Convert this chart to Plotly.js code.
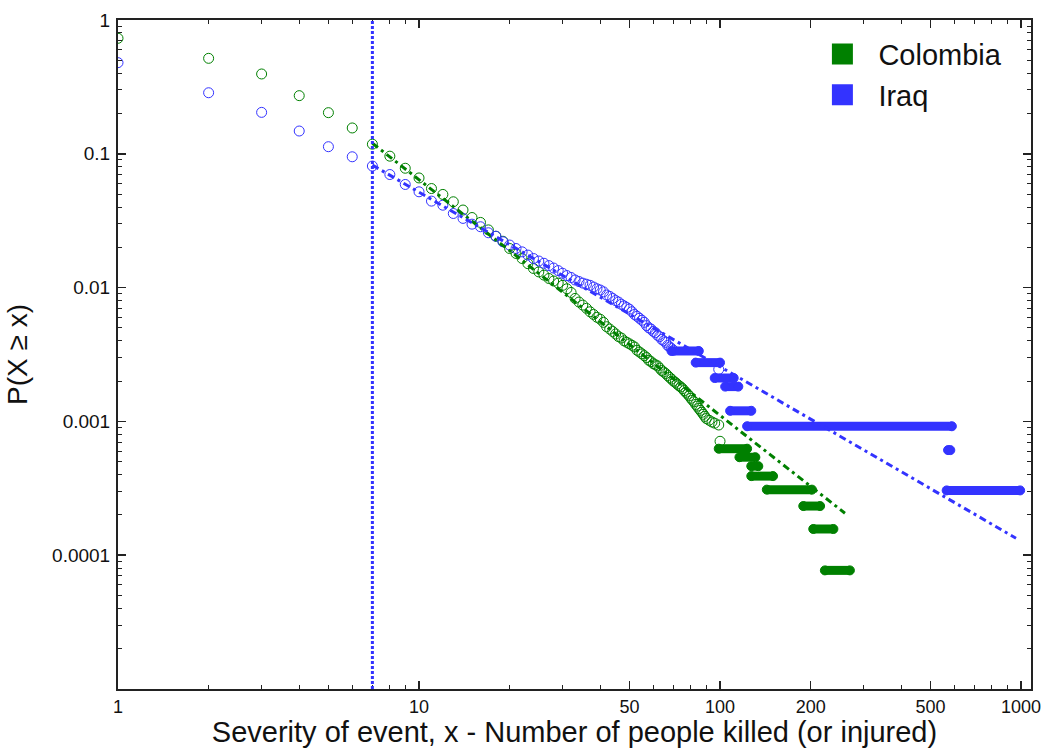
<!DOCTYPE html>
<html><head><meta charset="utf-8">
<script src="https://cdn.plot.ly/plotly-3.0.1.min.js"></script>
<style>html,body{margin:0;padding:0;background:#fff}#chart{width:1044px;height:748px}</style>
</head><body><div id="chart"></div>
<script>
// ---- Colombia: empirical CCDF points (x = severity, y = P(X >= x)) ----
const colombiaX = [1,2,3,4,5,6,7,8,9,10,11,12,13,14,15,16,17,18,19,20,
  21,22,23,24,25,26,27,28,29,30,31,32,33,34,35,36,37,38,39,40,
  41,42,43,44,45,46,47,48,49,50,51,52,53,54,55,56,57,58,59,60,
  61,62,63,64,65,66,67,68,69,70,71,72,73,74,75,76,77,78,79,80,
  81,82,83,84,85,86,87,88,89,90,92,94,96,99,100];
const colombiaY = [0.73,0.517,0.395,0.272,0.203,0.156,0.118,0.096,0.078,0.066,0.055,0.0497,0.0438,0.038,0.0334,0.0307,0.027,0.0242,0.0222,0.0196,
  0.018,0.0165,0.0151,0.0139,0.0131,0.0124,0.0117,0.0112,0.0108,0.0104,0.0098,0.0092,0.0083,0.0078,0.0074,0.0070,0.0066,0.0063,0.0060,0.0058,
  0.0055,0.0051,0.0049,0.0047,0.0045,0.0043,0.0042,0.0040,0.0039,0.0038,0.0037,0.0036,0.0034,0.0033,0.0032,0.0031,0.0030,0.00286,0.0028,0.0027,
  0.00265,0.0026,0.0025,0.0024,0.00234,0.00228,0.0022,0.00213,0.00207,0.0020,0.00196,0.0019,0.00185,0.00181,0.00176,0.0017,0.00165,0.0016,0.00155,0.00149,
  0.00144,0.0014,0.00134,0.0013,0.00125,0.00121,0.00117,0.00113,0.00109,0.00105,0.00102,0.00099,0.00097,0.00094,0.00071];
// Colombia tail plateaus (runs of equal P over a range of x)
const colombiaPlatY  = [0.000625,0.00054,0.000463,0.00039,0.000309,0.000233,0.000157,0.000077];
const colombiaPlatX0 = [99,116,127,127,143,189,204,223];
const colombiaPlatX1 = [123,131,134,150,202,215,238,270];

// ---- Iraq ----
const iraqX = [1,2,3,4,5,6,7,8,9,10,11,12,13,14,15,16,17,18,19,20,
  21,22,23,24,25,26,27,28,29,30,31,32,33,34,35,36,37,38,39,40,
  41,42,43,44,45,46,47,48,49,50,51,52,53,54,55,56,57,58,59,60,
  61,62,63,64,65,66,67,68,69,70,99];
const iraqY = [0.48,0.286,0.204,0.148,0.113,0.095,0.081,0.070,0.059,0.052,0.0443,0.0413,0.0358,0.0329,0.0298,0.0285,0.0257,0.0242,0.022,0.0208,
  0.0196,0.0185,0.0175,0.0165,0.0158,0.0152,0.0146,0.0140,0.0134,0.0128,0.0123,0.0119,0.0114,0.0111,0.0108,0.0106,0.0104,0.0101,0.0098,0.0096,
  0.0093,0.0088,0.0086,0.0083,0.0080,0.0078,0.0075,0.0073,0.0071,0.0069,0.0066,0.0063,0.0061,0.0059,0.0057,0.0055,0.0052,0.0050,0.0049,0.0047,
  0.0046,0.0044,0.0043,0.0041,0.0040,0.0039,0.0037,0.0036,0.0035,0.0034,0.00245];
const iraqPlatY  = [0.00336,0.00275,0.00211,0.00182,0.0012,0.00092,0.00061,0.000305];
const iraqPlatX0 = [69,83,96,104,108,123,572,566];
const iraqPlatX1 = [85,100,111,115,127,589,582,993];

// ---- Power-law fits (end points) and x_min ----
const colombiaFitX = [7,260];
const colombiaFitY = [0.12,0.000206];
const iraqFitX = [7,962];
const iraqFitY = [0.0823,0.000134];
const xMin = 7;

// ---- Axis ticks ----
const xTickVals = [1,10,50,100,200,500,1000];
const xTickText = ['1','10','50','100','200','500','1000'];
const xMinorVals = [2,3,4,5,6,7,8,9,20,30,40,60,70,80,90,300,400,600,700,800,900];
const yTickVals = [1,0.1,0.01,0.001,0.0001];
const yTickText = ['1','0.1','0.01','0.001','0.0001'];
const yMinorMant = [2,3,4,5,6,7,8,9];
const yDecades = [1e-5,1e-4,1e-3,1e-2,1e-1];

const GREEN = '#008000';
const BLUE = '#3333ff';
const FONT = 'Arial, "Liberation Sans", sans-serif';

function plateaus(x0, x1, y) {
  const xs = [], ys = [];
  for (let i = 0; i < y.length; i++) { xs.push(x0[i], x1[i], null); ys.push(y[i], y[i], null); }
  return {xs, ys};
}
const cp = plateaus(colombiaPlatX0, colombiaPlatX1, colombiaPlatY);
const ip = plateaus(iraqPlatX0, iraqPlatX1, iraqPlatY);

const yMinorVals = [];
yDecades.forEach(d => yMinorMant.forEach(m => yMinorVals.push(m * d)));

const ring = (c) => ({symbol: 'circle-open', size: 10, color: c, line: {width: 1, color: c}});

const traces = [
  {x: colombiaX, y: colombiaY, mode: 'markers', marker: ring(GREEN), showlegend: false},
  {x: cp.xs, y: cp.ys, mode: 'lines+markers', line: {color: GREEN, width: 9}, marker: {symbol: 'circle', size: 9, color: GREEN, line: {width: 1, color: GREEN}}, showlegend: false, connectgaps: false},
  {x: iraqX, y: iraqY, mode: 'markers', marker: ring(BLUE), showlegend: false},
  {x: ip.xs, y: ip.ys, mode: 'lines+markers', line: {color: BLUE, width: 9}, marker: {symbol: 'circle', size: 9, color: BLUE, line: {width: 1, color: BLUE}}, showlegend: false, connectgaps: false},
  {x: colombiaFitX, y: colombiaFitY, mode: 'lines', line: {color: GREEN, width: 3, dash: '7px,4px,3px,4px'}, showlegend: false},
  {x: iraqFitX, y: iraqFitY, mode: 'lines', line: {color: BLUE, width: 3, dash: '7px,4px,3px,4px'}, showlegend: false},
  {x: [null], y: [null], mode: 'markers', name: 'Colombia', marker: {symbol: 'square', size: 16, color: GREEN, line: {width: 5, color: GREEN}}},
  {x: [null], y: [null], mode: 'markers', name: 'Iraq', marker: {symbol: 'square', size: 16, color: BLUE, line: {width: 5, color: BLUE}}}
];

const axisCommon = {
  showgrid: false, zeroline: false, showline: true, mirror: 'ticks',
  linecolor: '#222', linewidth: 2, ticks: 'inside', ticklen: 8, tickwidth: 1.5, tickcolor: '#222'
};

const layout = {
  width: 1044, height: 748,
  margin: {l: 118, r: 13, t: 20, b: 59},
  paper_bgcolor: '#fff', plot_bgcolor: '#fff',
  font: {family: FONT, color: '#111'},
  xaxis: Object.assign({}, axisCommon, {
    type: 'log', range: [0, 3.033], tickmode: 'array', tickvals: xTickVals, ticktext: xTickText,
    tickfont: {family: FONT, size: 18, color: '#111'},
    minor: {tickmode: 'array', tickvals: xMinorVals, ticks: 'inside', ticklen: 4, tickwidth: 1, tickcolor: '#222'},
    title: {text: 'Severity of event, x - Number of people killed (or injured)', font: {family: FONT, size: 29, color: '#111'}, standoff: 6}
  }),
  yaxis: Object.assign({}, axisCommon, {
    type: 'log', range: [-5, 0], tickmode: 'array', tickvals: yTickVals, ticktext: yTickText,
    tickfont: {family: FONT, size: 19, color: '#111'},
    ticklabelstandoff: 2,
    minor: {tickmode: 'array', tickvals: yMinorVals, ticks: 'inside', ticklen: 4, tickwidth: 1, tickcolor: '#222'},
    title: {text: 'P(X ≥ x)', font: {family: FONT, size: 28, color: '#111'}, standoff: 16}
  }),
  shapes: [{type: 'line', xref: 'x', yref: 'paper', x0: xMin, x1: xMin, y0: 0, y1: 1, line: {color: BLUE, width: 3, dash: '3px,2px'}}],
  legend: {x: 0.754, y: 0.987, xanchor: 'left', yanchor: 'top', bgcolor: 'rgba(0,0,0,0)', borderwidth: 0,
    font: {family: FONT, size: 29, color: '#111'}, itemwidth: 62, tracegroupgap: 0},
  showlegend: true
};

Plotly.newPlot('chart', traces, layout, {displayModeBar: false, staticPlot: true});
</script>
</body></html>
